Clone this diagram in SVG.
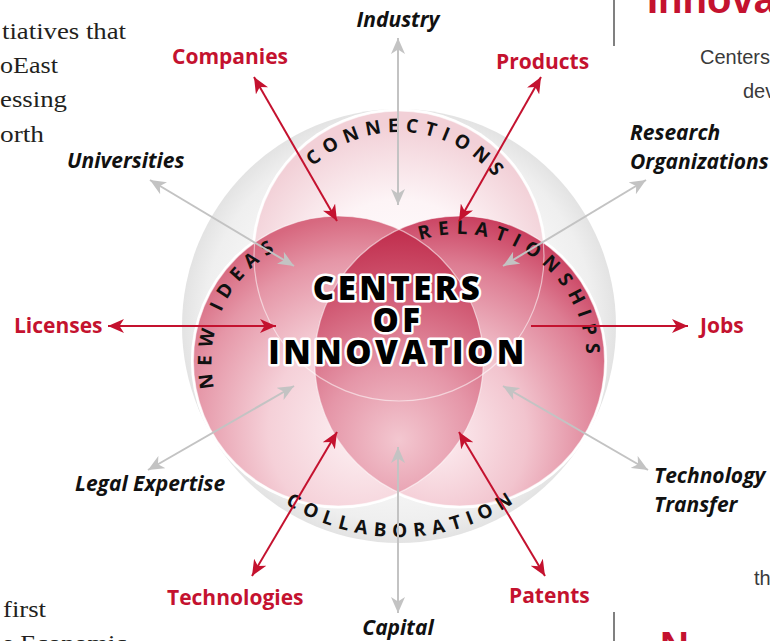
<svg xmlns="http://www.w3.org/2000/svg" xmlns:xlink="http://www.w3.org/1999/xlink" width="770" height="641" viewBox="0 0 770 641">
<style>
.page{font-family:"Liberation Serif","Times New Roman",serif;font-size:24px;fill:#231f20}
.side{font-family:"Liberation Sans",Arial,sans-serif;font-size:20px;fill:#3a3a3a}
.head{font-family:"Liberation Sans",Arial,sans-serif;font-weight:700;font-size:40px;fill:#c4122f}
.red{font-family:"Open Sans","Liberation Sans",sans-serif;font-weight:700;font-size:21px;fill:#c4122f}
.blk{font-family:"Open Sans","Liberation Sans",sans-serif;font-weight:700;font-style:italic;font-size:21px;fill:#111}
.arc{font-family:"Open Sans","Liberation Sans",sans-serif;font-weight:700;font-size:19px;fill:#111;letter-spacing:7px}
.title{font-family:"Open Sans","Liberation Sans",sans-serif;font-weight:800;font-size:33px;fill:#000;stroke:#fff;stroke-width:5px;stroke-linejoin:round;paint-order:stroke;letter-spacing:3.5px;text-anchor:middle}
.rl{stroke:#c4122f;stroke-width:2;fill:none}
.gl{stroke:#c3c3c3;stroke-width:2;fill:none}
.outline{fill:none;stroke:#fff;stroke-opacity:0.55;stroke-width:1.2}
</style>
<defs>
<marker id="mr" viewBox="0 0 16 14" refX="16" refY="7" markerWidth="16" markerHeight="14" markerUnits="userSpaceOnUse" orient="auto-start-reverse"><path d="M0,0 L16,7 L0,14 L4.5,7 Z" fill="#c4122f"/></marker>
<marker id="mg" viewBox="0 0 16 14" refX="16" refY="7" markerWidth="16" markerHeight="14" markerUnits="userSpaceOnUse" orient="auto-start-reverse"><path d="M0,0 L16,7 L0,14 L4.5,7 Z" fill="#c3c3c3"/></marker>
<radialGradient id="gGrey" gradientUnits="userSpaceOnUse" cx="399" cy="326" r="217"><stop offset="0" stop-color="#ffffff"/><stop offset="0.7" stop-color="#f7f7f7"/><stop offset="0.9" stop-color="#efefef"/><stop offset="1" stop-color="#e3e3e3"/></radialGradient>
<radialGradient id="gTop" gradientUnits="userSpaceOnUse" cx="399" cy="290" r="165"><stop offset="0" stop-color="#ffffff"/><stop offset="0.55" stop-color="#fdf4f6"/><stop offset="1" stop-color="#f2d0d7"/></radialGradient>
<radialGradient id="gLeft" gradientUnits="userSpaceOnUse" cx="365" cy="430" r="215"><stop offset="0" stop-color="#fdf3f5"/><stop offset="0.45" stop-color="#f5d0d8"/><stop offset="0.8" stop-color="#e596a7"/><stop offset="1" stop-color="#d7687f"/></radialGradient>
<radialGradient id="gRight" gradientUnits="userSpaceOnUse" cx="435" cy="435" r="230"><stop offset="0" stop-color="#fdf0f3"/><stop offset="0.4" stop-color="#f2c4ce"/><stop offset="0.75" stop-color="#dd7c92"/><stop offset="1" stop-color="#c63556"/></radialGradient>
<radialGradient id="gLens" gradientUnits="userSpaceOnUse" cx="399" cy="440" r="215"><stop offset="0" stop-color="#f3c7d0"/><stop offset="0.35" stop-color="#e596a8"/><stop offset="0.7" stop-color="#d05872"/><stop offset="1" stop-color="#bf2a4a"/></radialGradient>
<path id="pConn" d="M275,256 A124,124 0 0 1 523,256"/>
<path id="pRel" d="M332.6,361 A127,127 0 0 1 586.6,361 A127,127 0 0 1 332.6,361"/>
<path id="pNew" d="M338.4,488 A127,127 0 0 1 338.4,234 A127,127 0 0 1 338.4,488"/>
<path id="pColl" d="M188,326 A211,211 0 0 0 610,326"/>
</defs>

<g id="page-text">
<text class="page" x="2" y="39" textLength="124" lengthAdjust="spacingAndGlyphs">tiatives that</text>
<text class="page" x="0" y="73" textLength="58" lengthAdjust="spacingAndGlyphs">oEast</text>
<text class="page" x="0" y="107" textLength="67" lengthAdjust="spacingAndGlyphs">essing</text>
<text class="page" x="0" y="142" textLength="44" lengthAdjust="spacingAndGlyphs">orth</text>
<text class="page" x="3" y="617" textLength="43" lengthAdjust="spacingAndGlyphs">first</text>
<text class="page" x="2" y="651" textLength="125" lengthAdjust="spacingAndGlyphs">e Economic</text>
<text class="head" x="647" y="13">Innova</text>
<text class="side" x="700" y="64">Centers</text>
<text class="side" x="743" y="98">dev</text>
<text class="side" x="754" y="585">th</text>
<text class="head" x="660" y="660" font-size="32">N</text>
<line x1="614" y1="0" x2="614" y2="46" stroke="#808080" stroke-width="2"/>
<line x1="614" y1="612" x2="614" y2="641" stroke="#808080" stroke-width="2"/>
</g>

<g id="node-center">
<circle cx="399" cy="326" r="217" fill="url(#gGrey)"/>
<g fill="#fff">
<circle cx="399" cy="256" r="147.5"/>
<circle cx="338.4" cy="361" r="147.5"/>
<circle cx="459.6" cy="361" r="147.5"/>
</g>
<circle cx="399" cy="256" r="145" fill="url(#gTop)"/>
<circle cx="338.4" cy="361" r="145" fill="url(#gLeft)"/>
<circle cx="459.6" cy="361" r="145" fill="url(#gRight)"/>
<path d="M399,229.3 A145,145 0 0 1 399,492.7 A145,145 0 0 1 399,229.3 Z" fill="url(#gLens)"/>
<circle class="outline" cx="399" cy="256" r="145"/>
<circle class="outline" cx="338.4" cy="361" r="145"/>
<circle class="outline" cx="459.6" cy="361" r="145"/>
<text class="arc" style="letter-spacing:6.5px"><textPath href="#pConn" startOffset="205" text-anchor="middle">CONNECTIONS</textPath></text>
<text class="arc"><textPath href="#pRel" startOffset="159">RELATIONSHIPS</textPath></text>
<text class="arc"><textPath href="#pNew" startOffset="172">NEW IDEAS</textPath></text>
<text class="arc" style="letter-spacing:6.5px"><textPath href="#pColl" startOffset="335" text-anchor="middle">COLLABORATION</textPath></text>
<text class="title" x="398" y="300">CENTERS</text>
<text class="title" x="398" y="332">OF</text>
<text class="title" x="398" y="364">INNOVATION</text>
</g>

<g id="connectors">
<line class="gl" x1="398" y1="38" x2="398" y2="205" marker-start="url(#mg)" marker-end="url(#mg)"/>
<line class="gl" x1="150" y1="180" x2="294" y2="266" marker-start="url(#mg)" marker-end="url(#mg)"/>
<line class="gl" x1="646" y1="180" x2="503" y2="266" marker-start="url(#mg)" marker-end="url(#mg)"/>
<line class="gl" x1="148" y1="470" x2="294" y2="386" marker-start="url(#mg)" marker-end="url(#mg)"/>
<line class="gl" x1="648" y1="470" x2="503" y2="386" marker-start="url(#mg)" marker-end="url(#mg)"/>
<line class="gl" x1="398" y1="613" x2="398" y2="447" marker-start="url(#mg)" marker-end="url(#mg)"/>
<line class="rl" x1="254" y1="77" x2="337" y2="221" marker-start="url(#mr)" marker-end="url(#mr)"/>
<line class="rl" x1="541" y1="77" x2="459" y2="221" marker-start="url(#mr)" marker-end="url(#mr)"/>
<line class="rl" x1="108" y1="326" x2="276" y2="326" marker-start="url(#mr)" marker-end="url(#mr)"/>
<line class="rl" x1="531" y1="326" x2="688" y2="326" marker-end="url(#mr)"/>
<line class="rl" x1="252" y1="576" x2="337" y2="432" marker-start="url(#mr)" marker-end="url(#mr)"/>
<line class="rl" x1="545" y1="576" x2="459" y2="432" marker-start="url(#mr)" marker-end="url(#mr)"/>
</g>

<g id="node-industry"><text class="blk" x="398" y="27" text-anchor="middle">Industry</text></g>
<g id="node-companies"><text class="red" x="172" y="64">Companies</text></g>
<g id="node-products"><text class="red" x="496" y="69">Products</text></g>
<g id="node-universities"><text class="blk" x="67" y="168">Universities</text></g>
<g id="node-research"><text class="blk" x="630" y="140">Research</text><text class="blk" x="630" y="169">Organizations</text></g>
<g id="node-licenses"><text class="red" x="14" y="333">Licenses</text></g>
<g id="node-jobs"><text class="red" x="700" y="333">Jobs</text></g>
<g id="node-legal"><text class="blk" x="75" y="491">Legal Expertise</text></g>
<g id="node-transfer"><text class="blk" x="654" y="483">Technology</text><text class="blk" x="654" y="512">Transfer</text></g>
<g id="node-technologies"><text class="red" x="167" y="605">Technologies</text></g>
<g id="node-patents"><text class="red" x="509" y="603">Patents</text></g>
<g id="node-capital"><text class="blk" x="398" y="635" text-anchor="middle">Capital</text></g>
</svg>
